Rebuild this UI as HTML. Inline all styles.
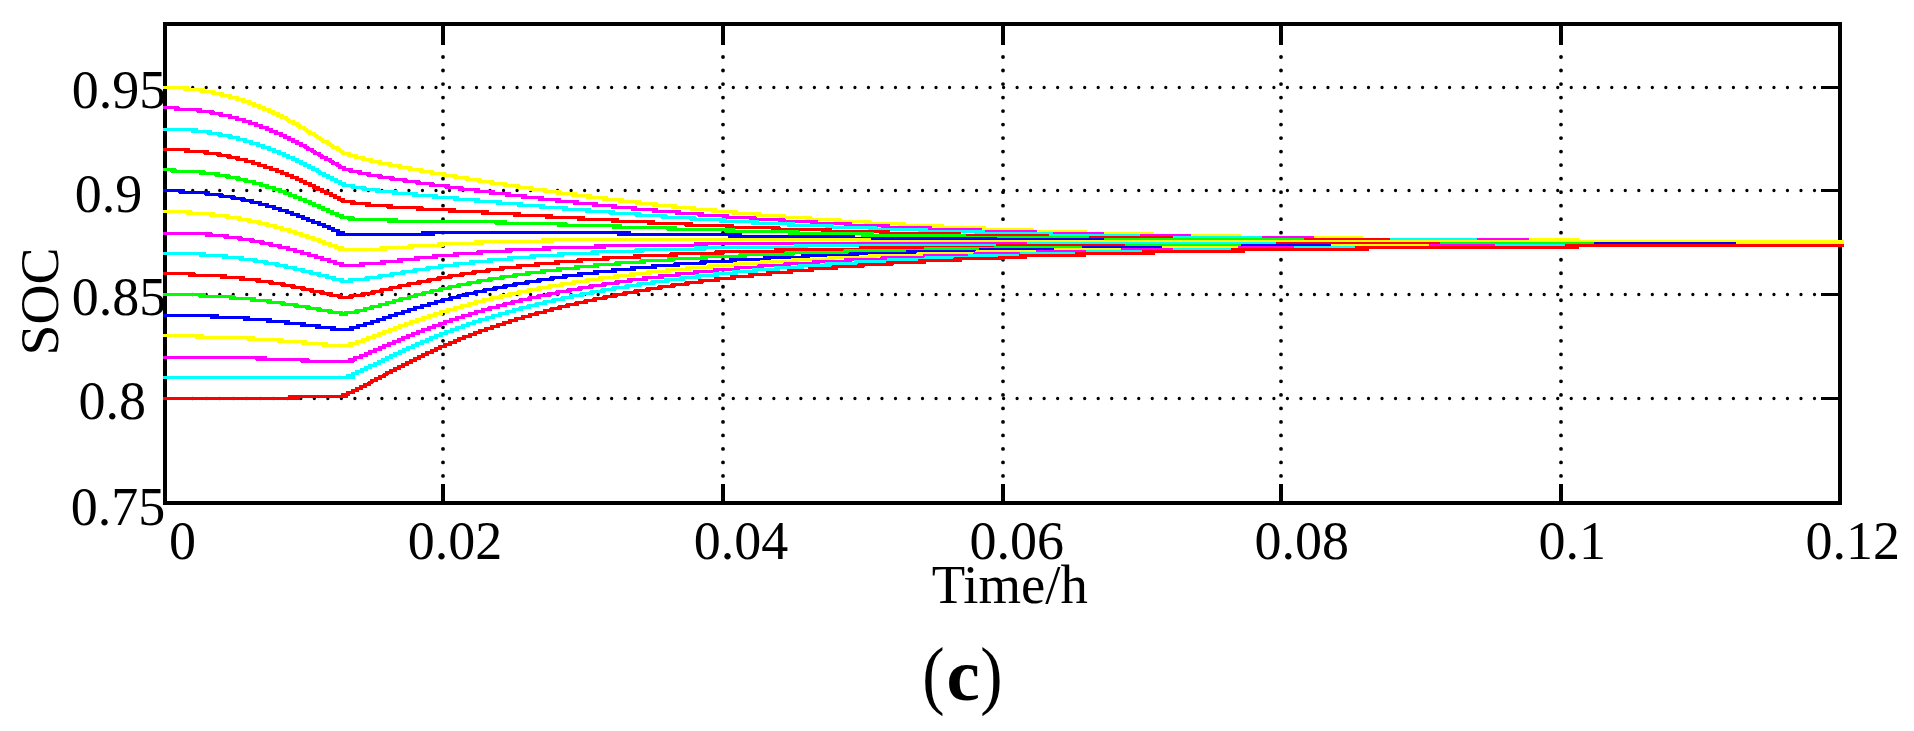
<!DOCTYPE html>
<html><head><meta charset="utf-8"><title>SOC</title>
<style>
html,body{margin:0;padding:0;background:#fff}
svg{display:block}
text{font-family:"Liberation Serif","Times New Roman",serif;font-size:54px;fill:#000}
</style></head><body>
<svg width="1914" height="731" viewBox="0 0 1914 731">
<rect width="1914" height="731" fill="#fff"/>
<g stroke="#000" fill="none" stroke-linecap="round">
<path d="M443 57V480" stroke-width="3.8" stroke-dasharray="0 13.515"/><path d="M723 57V480" stroke-width="3.8" stroke-dasharray="0 13.515"/><path d="M1003 57V480" stroke-width="3.8" stroke-dasharray="0 13.515"/><path d="M1281 57V480" stroke-width="3.8" stroke-dasharray="0 13.515"/><path d="M1561 57V480" stroke-width="3.8" stroke-dasharray="0 13.515"/><path d="M192.7 87.5H1816" stroke-width="3.3" stroke-dasharray="0 13.515"/><path d="M192.7 190.5H1816" stroke-width="3.3" stroke-dasharray="0 13.515"/><path d="M192.7 294.5H1816" stroke-width="3.3" stroke-dasharray="0 13.515"/><path d="M192.7 398.5H1816" stroke-width="3.3" stroke-dasharray="0 13.515"/></g>
<g shape-rendering="crispEdges" stroke="#000" fill="none">
<rect x="165" y="24" width="1675" height="479" stroke-width="4"/>
<path d="M443 24V45M443 503V484" stroke-width="4"/><path d="M723 24V45M723 503V484" stroke-width="4"/><path d="M1003 24V45M1003 503V484" stroke-width="4"/><path d="M1281 24V45M1281 503V484" stroke-width="4"/><path d="M1561 24V45M1561 503V484" stroke-width="4"/><path d="M165 87.5H184.5M1840 87.5H1820.5" stroke-width="3"/><path d="M165 190.5H184.5M1840 190.5H1820.5" stroke-width="3"/><path d="M165 294.5H184.5M1840 294.5H1820.5" stroke-width="3"/><path d="M165 398.5H184.5M1840 398.5H1820.5" stroke-width="3"/>
</g>
<g shape-rendering="crispEdges" fill="none" stroke-width="3" stroke-linecap="round">
<path d="M164.5 87.5H187.9M184.5 89.5H203.5M200.8 91.5H214.2M212.0 93.5H223.0M221.0 95.5H231.0M229.1 97.5H237.9M236.1 99.5H243.9M242.1 101.5H249.9M248.2 103.5H254.8M253.2 105.5H259.8M258.2 107.5H264.8M263.2 109.5H269.8M268.3 111.5H273.7M272.2 113.5H278.8M277.3 115.5H282.7M281.3 117.5H286.7M285.7 119.5H289.3M288.3 121.5H293.7M292.3 123.5H297.7M296.7 125.5H300.3M299.3 127.5H304.7M303.7 129.5H307.3M306.7 131.5H310.3M309.3 133.5H314.7M313.7 135.5H317.3M316.7 137.5H320.3M319.7 139.5H323.3M322.3 141.5H327.7M326.7 143.5H330.3M329.7 145.5H333.3M332.3 147.5H337.7M336.7 149.5H340.3M339.7 151.5H343.3M342.1 153.5H349.9M348.1 155.5H356.9M355.1 157.5H363.9M362.0 159.5H372.0M370.0 161.5H381.0M378.9 163.5H391.1M388.9 165.5H401.1M398.9 167.5H411.1M408.8 169.5H422.2M419.8 171.5H433.2M430.8 173.5H445.2M442.8 175.5H456.2M453.8 177.5H468.2M465.8 179.5H480.2M477.7 181.5H493.3M490.7 183.5H506.3M503.7 185.5H519.3M516.7 187.5H532.3M529.7 189.5H546.3M543.7 191.5H560.3M557.6 193.5H575.4M572.6 195.5H590.4M587.5 197.5H606.5M603.5 199.5H622.5M619.5 201.5H639.5M636.5 203.5H656.5M653.4 205.5H675.6M672.4 207.5H694.6M691.2 209.5H715.8M712.2 211.5H736.8M733.1 213.5H759.9M756.0 215.5H785.0M780.9 217.5H811.1M806.8 219.5H840.2M835.7 221.5H870.3M865.5 223.5H904.5M899.2 225.5H942.8M937.0 227.5H985.0M978.7 229.5H1032.3M1025.3 231.5H1085.7M1077.5 233.5H1152.5M1142.5 235.5H1239.5M1228.5 237.5H1361.5M1350.5 239.5H1577.5M1566.5 241.5H1842.5" stroke="#ffff00"/>
<path d="M164.5 107.5H178.3M175.2 109.5H200.8M197.7 111.5H213.3M211.0 113.5H222.0M220.0 115.5H231.0M229.1 117.5H237.9M236.1 119.5H244.9M243.1 121.5H250.9M249.1 123.5H256.9M255.2 125.5H261.8M260.1 127.5H267.9M266.3 129.5H271.7M270.2 131.5H276.8M275.2 133.5H281.8M280.3 135.5H285.7M284.3 137.5H289.7M288.3 139.5H293.7M292.3 141.5H297.7M296.3 143.5H301.7M300.3 145.5H305.7M304.7 147.5H308.3M307.3 149.5H312.7M311.7 151.5H315.3M314.3 153.5H319.7M318.7 155.5H322.3M321.3 157.5H326.7M325.3 159.5H330.7M329.7 161.5H333.3M332.3 163.5H337.7M336.7 165.5H340.3M339.3 167.5H344.7M343.1 169.5H351.9M350.0 171.5H361.0M359.0 173.5H370.0M367.8 175.5H381.2M378.8 177.5H393.2M390.7 179.5H406.3M403.7 181.5H419.3M416.7 183.5H433.3M430.6 185.5H448.4M445.7 187.5H462.3M459.5 189.5H478.5M475.6 191.5H493.4M490.5 193.5H509.5M506.5 195.5H525.5M522.5 197.5H542.5M539.5 199.5H559.5M556.4 201.5H577.6M574.4 203.5H596.6M593.4 205.5H615.6M612.3 207.5H635.7M632.2 209.5H656.8M653.1 211.5H679.9M676.1 213.5H702.9M699.0 215.5H728.0M723.9 217.5H755.1M750.8 219.5H784.2M779.6 221.5H816.4M811.5 223.5H850.5M845.2 225.5H888.8M883.0 227.5H931.0M924.6 229.5H980.4M973.2 231.5H1035.8M1027.5 233.5H1102.5M1092.5 235.5H1189.5M1178.5 237.5H1312.5M1301.5 239.5H1527.5M1516.5 241.5H1842.5" stroke="#ff00ff"/>
<path d="M164.5 129.5H196.4M192.6 131.5H210.4M207.8 133.5H221.2M218.9 135.5H231.1M229.0 137.5H239.0M237.1 139.5H245.9M244.1 141.5H251.9M250.1 143.5H258.9M257.2 145.5H263.8M262.1 147.5H269.9M268.2 149.5H274.8M273.2 151.5H279.8M278.2 153.5H284.8M283.3 155.5H288.7M287.2 157.5H293.8M292.3 159.5H297.7M296.3 161.5H301.7M300.3 163.5H305.7M304.3 165.5H309.7M308.3 167.5H313.7M312.3 169.5H317.7M316.7 171.5H320.3M319.3 173.5H324.7M323.3 175.5H328.7M327.3 177.5H332.7M331.3 179.5H336.7M335.3 181.5H340.7M339.3 183.5H344.7M343.0 185.5H354.0M351.8 187.5H365.2M362.7 189.5H379.3M376.5 191.5H396.5M393.3 193.5H416.7M413.3 195.5H436.7M433.2 197.5H457.8M454.2 199.5H478.8M475.2 201.5H500.8M497.2 203.5H521.8M518.2 205.5H543.8M540.1 207.5H566.9M563.1 209.5H589.9M586.1 211.5H613.9M609.9 213.5H640.1M635.9 215.5H666.1M661.8 217.5H695.2M690.7 219.5H725.3M720.6 221.5H757.4M752.3 223.5H793.7M788.2 225.5H832.8M826.9 227.5H876.1M869.5 229.5H926.5M919.1 231.5H983.9M975.5 233.5H1051.5M1041.5 235.5H1138.5M1127.5 237.5H1260.5M1249.5 239.5H1475.5M1464.5 241.5H1842.5" stroke="#00ffff"/>
<path d="M164.5 149.5H188.9M185.4 151.5H207.6M204.7 153.5H220.3M217.9 155.5H230.1M228.0 157.5H239.0M237.0 159.5H247.0M245.1 161.5H253.9M252.1 163.5H259.9M258.1 165.5H265.9M264.1 167.5H271.9M270.1 169.5H277.9M276.2 171.5H282.8M281.2 173.5H287.8M286.2 175.5H292.8M291.2 177.5H297.8M296.3 179.5H301.7M300.3 181.5H305.7M304.2 183.5H310.8M309.3 185.5H314.7M313.3 187.5H318.7M317.3 189.5H322.7M321.3 191.5H326.7M325.2 193.5H331.8M330.3 195.5H335.7M334.3 197.5H339.7M338.3 199.5H343.7M341.9 201.5H354.1M351.6 203.5H369.4M366.2 205.5H391.8M387.7 207.5H422.3M417.6 209.5H454.4M449.5 211.5H487.5M482.6 213.5H519.4M514.6 215.5H551.4M546.6 217.5H583.4M578.5 219.5H617.5M612.3 221.5H653.7M648.2 223.5H691.8M686.0 225.5H733.0M726.7 227.5H779.3M772.4 229.5H830.6M823.0 231.5H889.0M880.3 233.5H959.7M949.5 235.5H1047.5M1036.5 237.5H1171.5M1160.5 239.5H1388.5M1377.5 241.5H1842.5" stroke="#ff0000"/>
<path d="M164.5 169.5H175.2M171.8 171.5H204.2M200.6 173.5H218.4M215.8 175.5H229.2M226.9 177.5H239.1M237.0 179.5H247.0M245.0 181.5H255.0M253.1 183.5H261.9M260.1 185.5H267.9M266.1 187.5H274.9M273.1 189.5H280.9M279.2 191.5H285.8M284.2 193.5H290.8M289.2 195.5H295.8M294.2 197.5H300.8M299.2 199.5H305.8M304.2 201.5H310.8M309.3 203.5H314.7M313.2 205.5H319.8M318.3 207.5H323.7M322.2 209.5H328.8M327.3 211.5H332.7M331.2 213.5H337.8M336.2 215.5H342.8M340.9 217.5H353.1M349.0 219.5H397.0M388.5 221.5H505.5M495.8 223.5H566.2M558.2 225.5H620.8M613.2 227.5H675.8M668.0 229.5H734.0M725.7 231.5H798.3M789.1 233.5H872.9M862.5 235.5H964.5M953.5 237.5H1087.5M1076.5 239.5H1302.5M1291.5 241.5H1842.5" stroke="#00ff00"/>
<path d="M164.5 190.5H183.6M180.0 192.5H209.0M205.7 194.5H222.3M219.8 196.5H234.2M231.9 198.5H244.1M242.0 200.5H253.0M251.0 202.5H261.0M259.1 204.5H267.9M266.1 206.5H274.9M273.1 208.5H280.9M279.1 210.5H287.9M286.2 212.5H292.8M291.1 214.5H298.9M297.2 216.5H303.8M302.2 218.5H308.8M307.2 220.5H313.8M312.1 222.5H319.9M318.2 224.5H324.8M323.2 226.5H329.8M328.3 228.5H333.7M332.2 230.5H338.8M337.2 232.5H343.8M337.5 234.5H433.5M422.5 232.5H629.5M618.5 234.5H740.5M729.5 236.5H853.5M842.5 238.5H995.5M988.8 240.5H1002.2M995.5 239.5H1102.5M1091.5 241.5H1737.5M1726.5 243.5H1842.5" stroke="#0000ff"/>
<path d="M164.5 211.5H191.1M187.1 213.5H213.9M210.6 215.5H228.4M225.8 217.5H240.2M237.9 219.5H250.1M247.9 221.5H260.1M258.0 223.5H268.0M266.0 225.5H276.0M274.1 227.5H282.9M281.1 229.5H289.9M288.1 231.5H295.9M294.1 233.5H301.9M300.1 235.5H307.9M306.1 237.5H313.9M312.1 239.5H319.9M318.2 241.5H324.8M323.1 243.5H330.9M329.1 245.5H336.9M335.1 247.5H342.9M339.0 249.5H386.0M380.8 247.5H413.2M408.7 245.5H443.3M438.2 243.5H482.8M475.4 241.5H552.6M542.5 239.5H869.5M858.5 241.5H1842.5" stroke="#ffff00"/>
<path d="M164.5 233.5H211.2M206.4 235.5H227.6M224.7 237.5H241.3M238.8 239.5H253.2M250.9 241.5H263.1M261.0 243.5H272.0M270.0 245.5H281.0M279.0 247.5H289.0M287.1 249.5H295.9M294.1 251.5H302.9M301.1 253.5H309.9M308.1 255.5H316.9M315.1 257.5H322.9M321.1 259.5H329.9M328.1 261.5H335.9M334.1 263.5H342.9M340.3 265.5H363.7M360.2 263.5H384.8M381.5 261.5H401.5M398.5 259.5H418.5M415.4 257.5H436.6M433.2 255.5H457.8M454.1 253.5H481.9M477.8 251.5H511.2M506.2 249.5H549.8M543.3 247.5H604.7M595.5 245.5H706.5M695.5 243.5H1842.5" stroke="#ff00ff"/>
<path d="M164.5 253.5H204.8M200.1 255.5H226.9M223.5 257.5H242.5M239.7 259.5H256.3M253.8 261.5H267.2M264.8 263.5H278.2M276.0 265.5H287.0M285.0 267.5H296.0M294.0 269.5H304.0M302.0 271.5H312.0M310.0 273.5H320.0M318.0 275.5H328.0M326.1 277.5H334.9M333.0 279.5H343.0M341.0 281.5H352.0M349.5 279.5H368.5M365.7 277.5H381.3M378.8 275.5H393.2M390.8 273.5H404.2M401.8 271.5H416.2M413.7 269.5H429.3M426.7 267.5H442.3M439.6 265.5H457.4M454.5 263.5H473.5M470.4 261.5H491.6M488.3 259.5H511.7M508.1 257.5H534.9M530.8 255.5H563.2M558.5 253.5H597.5M591.8 251.5H643.2M635.8 249.5H705.2M695.5 247.5H806.5M795.5 245.5H1039.5M1028.5 243.5H1842.5" stroke="#00ffff"/>
<path d="M164.5 273.5H194.2M189.6 275.5H225.4M221.4 277.5H243.6M240.5 279.5H259.5M256.7 281.5H272.3M269.8 283.5H284.2M281.9 285.5H294.1M291.9 287.5H304.1M302.0 289.5H313.0M310.9 291.5H323.1M321.0 293.5H332.0M330.0 295.5H341.0M338.8 297.5H352.2M349.8 295.5H364.2M361.9 293.5H374.1M372.0 291.5H383.0M381.0 289.5H392.0M390.0 287.5H401.0M399.0 285.5H410.0M407.9 283.5H420.1M417.9 281.5H430.1M427.9 279.5H440.1M437.8 277.5H451.2M448.8 275.5H463.2M460.8 273.5H475.2M472.7 271.5H489.3M486.7 269.5H503.3M500.5 267.5H520.5M517.4 265.5H538.6M535.3 263.5H558.7M555.1 261.5H581.9M577.9 259.5H608.1M603.6 257.5H639.4M634.3 255.5H676.7M670.7 253.5H723.3M715.8 251.5H785.2M775.5 249.5H871.5M860.5 247.5H1008.5M997.5 245.5H1288.5M1277.5 243.5H1842.5" stroke="#ff0000"/>
<path d="M164.5 294.5H204.8M199.7 296.5H234.3M230.2 298.5H254.8M251.5 300.5H270.5M267.7 302.5H284.3M281.7 304.5H297.3M294.8 306.5H309.2M306.8 308.5H320.2M317.8 310.5H331.2M328.8 312.5H342.2M340.2 314.5H346.8M344.8 312.5H358.2M356.0 310.5H366.0M364.1 308.5H372.9M371.0 306.5H381.0M379.1 304.5H387.9M386.1 302.5H394.9M393.1 300.5H401.9M400.0 298.5H410.0M408.1 296.5H416.9M415.0 294.5H425.0M423.0 292.5H433.0M431.0 290.5H442.0M440.0 288.5H451.0M449.0 286.5H460.0M457.9 284.5H470.1M467.9 282.5H480.1M477.8 280.5H491.2M488.8 278.5H503.2M500.7 276.5H516.3M513.7 274.5H529.3M526.6 272.5H544.4M541.5 270.5H560.5M557.4 268.5H578.6M575.4 266.5H597.6M594.2 264.5H619.8M616.0 262.5H645.0M640.8 260.5H673.2M668.5 258.5H706.5M701.2 256.5H745.8M739.7 254.5H793.3M785.9 252.5H854.1M844.7 250.5H935.3M925.2 248.5H1005.8M995.5 247.5H1137.5M1126.5 245.5H1452.5M1441.5 243.5H1842.5" stroke="#00ff00"/>
<path d="M164.5 315.5H217.6M211.6 317.5H248.4M244.1 319.5H270.9M267.4 321.5H288.6M285.5 323.5H304.5M301.6 325.5H319.4M316.6 327.5H334.4M331.4 329.5H352.6M350.1 327.5H358.9M357.1 325.5H365.9M364.1 323.5H372.9M371.1 321.5H378.9M377.1 319.5H384.9M383.1 317.5H390.9M389.1 315.5H396.9M395.1 313.5H403.9M402.1 311.5H409.9M408.1 309.5H415.9M414.1 307.5H422.9M421.1 305.5H429.9M428.1 303.5H436.9M435.1 301.5H443.9M442.0 299.5H452.0M450.0 297.5H460.0M458.0 295.5H468.0M466.0 293.5H477.0M475.0 291.5H486.0M483.9 289.5H496.1M493.9 287.5H506.1M503.9 285.5H516.1M513.8 283.5H528.2M525.8 281.5H540.2M537.7 279.5H553.3M550.7 277.5H566.3M563.6 275.5H581.4M578.5 273.5H597.5M594.4 271.5H615.6M612.4 269.5H634.6M631.2 267.5H655.8M652.1 265.5H678.9M674.9 263.5H705.1M700.7 261.5H735.3M730.5 259.5H769.5M764.2 257.5H808.8M802.6 255.5H857.4M850.0 253.5H916.0M907.1 251.5H990.9M980.5 249.5H1094.5M1083.5 247.5H1253.5M1242.5 245.5H1606.5M1595.5 243.5H1842.5" stroke="#0000ff"/>
<path d="M164.5 335.5H202.7M196.5 337.5H253.5M247.7 339.5H282.3M278.1 341.5H305.9M302.2 343.5H326.8M323.0 345.5H352.0M349.1 343.5H357.9M356.1 341.5H363.9M362.2 339.5H368.8M367.1 337.5H374.9M373.2 335.5H379.8M378.2 333.5H384.8M383.1 331.5H390.9M389.2 329.5H395.8M394.2 327.5H400.8M399.1 325.5H406.9M405.2 323.5H411.8M410.1 321.5H417.9M416.1 319.5H423.9M422.1 317.5H429.9M428.1 315.5H435.9M434.1 313.5H441.9M440.1 311.5H448.9M447.1 309.5H455.9M454.1 307.5H462.9M461.1 305.5H469.9M468.1 303.5H476.9M475.0 301.5H485.0M483.0 299.5H493.0M491.0 297.5H502.0M500.0 295.5H511.0M509.0 293.5H520.0M517.9 291.5H530.1M527.9 289.5H540.1M537.8 287.5H551.2M548.8 285.5H563.2M560.8 283.5H575.2M572.7 281.5H588.3M585.7 279.5H602.3M599.6 277.5H617.4M614.5 275.5H633.5M630.5 273.5H650.5M647.4 271.5H669.6M666.3 269.5H689.7M686.1 267.5H712.9M709.0 265.5H738.0M733.8 263.5H766.2M761.6 261.5H797.4M792.3 259.5H833.7M828.0 257.5H876.0M869.6 255.5H925.4M917.9 253.5H986.1M976.8 251.5H1066.2M1055.5 249.5H1174.5M1163.5 247.5H1343.5M1332.5 245.5H1748.5M1737.5 243.5H1842.5" stroke="#ffff00"/>
<path d="M164.5 357.5H265.5M256.8 359.5H308.2M301.8 361.5H353.2M349.2 359.5H355.8M354.1 357.5H361.9M360.2 355.5H366.8M365.3 353.5H370.7M369.2 351.5H375.8M374.2 349.5H380.8M379.3 347.5H384.7M383.2 345.5H389.8M388.2 343.5H394.8M393.2 341.5H399.8M398.3 339.5H403.7M402.2 337.5H408.8M407.2 335.5H413.8M412.2 333.5H418.8M417.2 331.5H423.8M422.1 329.5H429.9M428.2 327.5H434.8M433.1 325.5H440.9M439.2 323.5H445.8M444.1 321.5H451.9M450.1 319.5H457.9M456.1 317.5H463.9M462.1 315.5H470.9M469.1 313.5H476.9M475.1 311.5H483.9M482.1 309.5H490.9M489.0 307.5H499.0M497.1 305.5H505.9M504.0 303.5H514.0M512.0 301.5H522.0M520.0 299.5H531.0M529.0 297.5H540.0M537.9 295.5H550.1M548.0 293.5H559.0M556.8 291.5H570.2M567.8 289.5H581.2M578.8 287.5H592.2M589.7 285.5H605.3M602.7 283.5H618.3M615.7 281.5H631.3M628.6 279.5H646.4M643.5 277.5H662.5M659.5 275.5H679.5M676.4 273.5H697.6M694.3 271.5H717.7M714.2 269.5H738.8M735.1 267.5H762.9M758.9 265.5H789.1M784.8 263.5H818.2M813.6 261.5H850.4M845.3 259.5H887.7M881.9 257.5H931.1M924.4 255.5H982.6M974.7 253.5H1047.3M1037.5 251.5H1133.5M1122.5 249.5H1250.5M1239.5 247.5H1441.5M1430.5 245.5H1842.5" stroke="#ff00ff"/>
<path d="M164.5 377.5H353.5M347.2 375.5H353.8M352.3 373.5H357.7M356.2 371.5H362.8M361.3 369.5H366.7M365.3 367.5H370.7M369.2 365.5H375.8M374.3 363.5H379.7M378.3 361.5H383.7M382.3 359.5H387.7M386.3 357.5H391.7M390.3 355.5H395.7M394.2 353.5H400.8M399.3 351.5H404.7M403.3 349.5H408.7M407.2 347.5H413.8M412.3 345.5H417.7M416.2 343.5H422.8M421.2 341.5H427.8M426.3 339.5H431.7M430.2 337.5H436.8M435.2 335.5H441.8M440.2 333.5H446.8M445.1 331.5H452.9M451.2 329.5H457.8M456.1 327.5H463.9M462.2 325.5H468.8M467.1 323.5H474.9M473.1 321.5H480.9M479.1 319.5H487.9M486.1 317.5H493.9M492.1 315.5H500.9M499.1 313.5H507.9M506.1 311.5H514.9M513.1 309.5H521.9M520.0 307.5H530.0M528.0 305.5H538.0M536.0 303.5H546.0M544.0 301.5H555.0M553.0 299.5H564.0M562.0 297.5H573.0M570.9 295.5H583.1M580.9 293.5H593.1M590.8 291.5H604.2M601.8 289.5H615.2M612.7 287.5H628.3M625.8 285.5H640.2M637.7 283.5H654.3M651.7 281.5H668.3M665.6 279.5H683.4M680.5 277.5H699.5M696.4 275.5H717.6M714.4 273.5H736.6M733.3 271.5H756.7M753.2 269.5H778.8M775.1 267.5H802.9M798.9 265.5H830.1M825.7 263.5H860.3M855.5 261.5H893.5M888.2 259.5H931.8M925.9 257.5H976.1M969.3 255.5H1029.7M1021.5 253.5H1097.5M1087.5 251.5H1185.5M1174.5 249.5H1306.5M1295.5 247.5H1507.5M1496.5 245.5H1842.5" stroke="#00ffff"/>
<path d="M164.5 398.5H298.5M289.5 396.5H346.5M342.2 394.5H348.8M347.2 392.5H353.8M352.3 390.5H357.7M356.3 388.5H361.7M360.3 386.5H365.7M364.3 384.5H369.7M368.7 382.5H372.3M371.3 380.5H376.7M375.3 378.5H380.7M379.3 376.5H384.7M383.7 374.5H387.3M386.3 372.5H391.7M390.3 370.5H395.7M394.3 368.5H399.7M398.3 366.5H403.7M402.3 364.5H407.7M406.3 362.5H411.7M410.3 360.5H415.7M414.3 358.5H419.7M418.3 356.5H423.7M422.3 354.5H427.7M426.2 352.5H432.8M431.3 350.5H436.7M435.3 348.5H440.7M439.2 346.5H445.8M444.2 344.5H450.8M449.2 342.5H455.8M454.3 340.5H459.7M458.2 338.5H464.8M463.1 336.5H470.9M469.2 334.5H475.8M474.2 332.5H480.8M479.1 330.5H486.9M485.1 328.5H492.9M491.1 326.5H498.9M497.1 324.5H504.9M503.1 322.5H510.9M509.1 320.5H516.9M515.1 318.5H523.9M522.1 316.5H530.9M529.1 314.5H537.9M536.0 312.5H546.0M544.1 310.5H552.9M551.0 308.5H561.0M559.0 306.5H569.0M567.0 304.5H578.0M576.0 302.5H587.0M585.0 300.5H596.0M593.9 298.5H606.1M603.9 296.5H616.1M613.9 294.5H626.1M623.8 292.5H637.2M634.8 290.5H649.2M646.8 288.5H661.2M658.7 286.5H674.3M671.7 284.5H688.3M685.7 282.5H702.3M699.5 280.5H718.5M715.5 278.5H734.5M731.4 276.5H752.6M749.4 274.5H770.6M767.2 272.5H791.8M788.2 270.5H812.8M809.1 268.5H836.9M832.9 266.5H863.1M858.8 264.5H892.2M887.6 262.5H924.4M919.3 260.5H960.7M954.9 258.5H1004.1M999.1 257.5H1025.9M1020.1 255.5H1084.9M1076.4 253.5H1153.6M1143.5 251.5H1243.5M1232.5 249.5H1367.5M1356.5 247.5H1577.5M1566.5 245.5H1842.5" stroke="#ff0000"/>
</g>
<g><text x="71.7" y="107.9">0.95</text><text x="74.8" y="212.0">0.9</text><text x="71.7" y="314.9">0.85</text><text x="78.6" y="419.2">0.8</text><text x="70.8" y="525.0">0.75</text><text x="168.9" y="559">0</text><text x="407.8" y="559">0.02</text><text x="693.7" y="559">0.04</text><text x="969.5" y="559">0.06</text><text x="1254.6" y="559">0.08</text><text x="1538.4" y="559">0.1</text><text x="1805.5" y="559">0.12</text>
<text x="931.8" y="603" style="font-size:54.7px">Time/h</text>
<text transform="translate(58.4,301.5) rotate(-90)" text-anchor="middle" style="font-size:55.5px">SOC</text>
<text transform="translate(922.2,700) scale(0.87,1)" style="font-size:77px">(</text>
<text x="946.5" y="700" style="font-size:75px;font-weight:bold">c</text>
<text transform="translate(980.3,700) scale(0.87,1)" style="font-size:77px">)</text>
</g>
</svg>
</body></html>
